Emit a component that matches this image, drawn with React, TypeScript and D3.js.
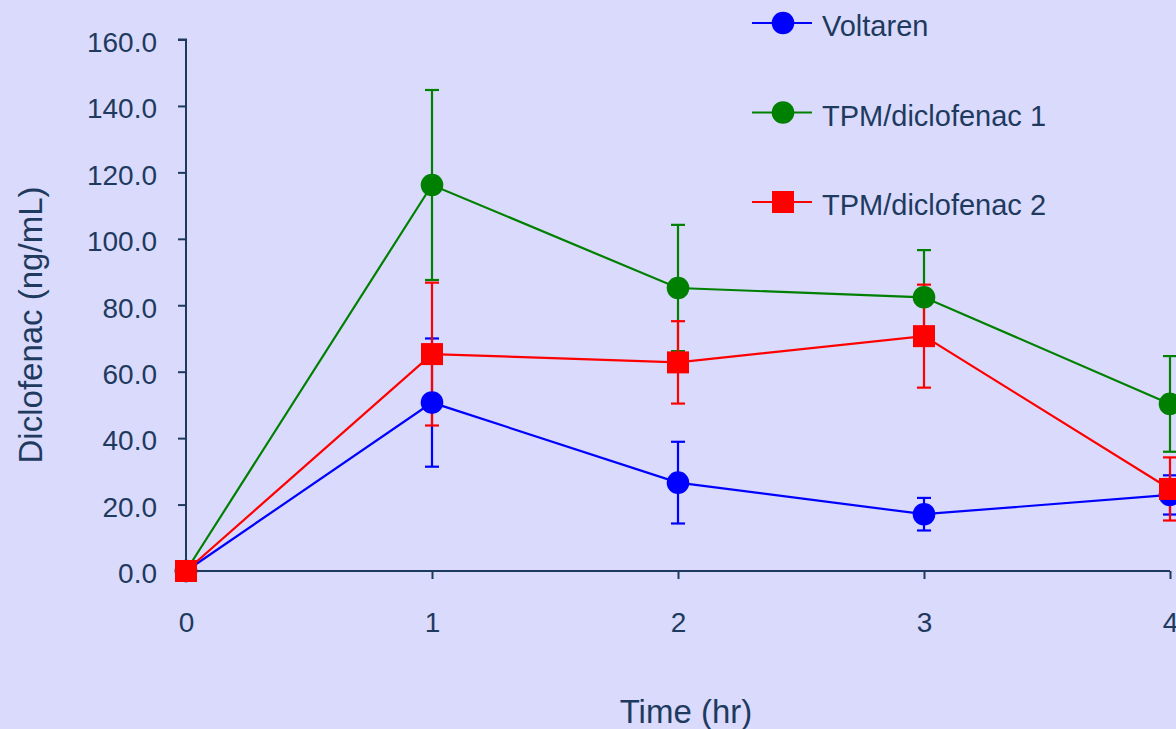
import { useEffect, useRef } from "react";
import * as d3 from "d3";

const times = [0, 1, 2, 3, 4];
const yTicks = [0, 20, 40, 60, 80, 100, 120, 140, 160];

const voltaren = [0, 50.7, 26.6, 17.1, 22.9];
const voltarenErr = [0, 19.3, 12.3, 4.9, 5.9];
const tpm1 = [0, 116.2, 85.2, 82.4, 50.3];
const tpm1Err = [0, 28.6, 19.0, 14.2, 14.4];
const tpm2 = [0, 65.3, 62.8, 70.7, 24.7];
const tpm2Err = [0, 21.5, 12.4, 15.5, 9.5];

const seriesNames = ["Voltaren", "TPM/diclofenac 1", "TPM/diclofenac 2"];

const W = 1176;
const H = 729;
const textColor = "#1f3a5f";
const font = "'Liberation Sans', Arial, sans-serif";

const App = () => {
  const svgRef = useRef<SVGSVGElement>(null);

  useEffect(() => {
    const svg = d3.select(svgRef.current);
    svg.selectAll("*").remove();

    const x = d3.scaleLinear().domain([0, 4]).range([186, 1170]);
    const y = d3.scaleLinear().domain([0, 160]).range([571, 39.5]);

    const series = [
      { name: seriesNames[0], values: voltaren, err: voltarenErr, color: "#0000ff", shape: "circle" },
      { name: seriesNames[1], values: tpm1, err: tpm1Err, color: "#008000", shape: "circle" },
      { name: seriesNames[2], values: tpm2, err: tpm2Err, color: "#ff0000", shape: "square" },
    ];

    svg.append("rect").attr("width", W).attr("height", H).attr("fill", "#dadafc");

    // axes
    const yAxis = d3
      .axisLeft(y)
      .tickValues(yTicks)
      .tickSize(8)
      .tickPadding(21)
      .tickFormat((d) => d3.format(".1f")(d as number));
    const yg = svg.append("g").attr("transform", `translate(${x(0)},0)`).call(yAxis);

    const xAxis = d3.axisBottom(x).tickValues(times).tickSize(8).tickPadding(33).tickFormat(d3.format("d"));
    const xg = svg.append("g").attr("transform", `translate(0,${y(0)})`).call(xAxis);

    [yg, xg].forEach((g) => {
      g.select(".domain").attr("stroke", textColor).attr("stroke-width", 2);
      g.selectAll(".tick line").attr("stroke", textColor).attr("stroke-width", 2);
      g.selectAll(".tick text")
        .attr("fill", textColor)
        .attr("font-family", font)
        .attr("font-size", 28);
    });
    yg.selectAll(".tick text").attr("dy", "0.42em");
    // hide outer tick caps on domain path
    yg.select(".domain").attr("d", `M-8,${y(160)}H0V${y(0)}`);
    xg.select(".domain").attr("d", `M${x(0)},0H${x(4)}`);

    // axis titles
    svg
      .append("text")
      .attr("x", 686)
      .attr("y", 723)
      .attr("text-anchor", "middle")
      .attr("fill", textColor)
      .attr("font-family", font)
      .attr("font-size", 33)
      .text("Time (hr)");

    svg
      .append("text")
      .attr("transform", "translate(42,325) rotate(-90)")
      .attr("text-anchor", "middle")
      .attr("fill", textColor)
      .attr("font-family", font)
      .attr("font-size", 33)
      .text("Diclofenac (ng/mL)");

    const line = d3
      .line<number>()
      .x((d, i) => x(times[i]))
      .y((d) => y(d));

    // lines and error bars
    series.forEach((s) => {
      const g = svg.append("g");
      g.append("path")
        .datum(s.values)
        .attr("d", line)
        .attr("fill", "none")
        .attr("stroke", s.color)
        .attr("stroke-width", 2.2);

      s.values.forEach((v, i) => {
        if (!s.err[i]) return;
        const cx = x(times[i]);
        const top = y(v + s.err[i]);
        const bot = y(v - s.err[i]);
        g.append("line").attr("x1", cx).attr("x2", cx).attr("y1", top).attr("y2", bot)
          .attr("stroke", s.color).attr("stroke-width", 2.2);
        [top, bot].forEach((yy) => {
          g.append("line").attr("x1", cx - 7).attr("x2", cx + 7).attr("y1", yy).attr("y2", yy)
            .attr("stroke", s.color).attr("stroke-width", 2.2);
        });
      });
    });

    const drawMarker = (g: any, shape: string, cx: number, cy: number, color: string) => {
      if (shape === "circle") {
        g.append("circle").attr("cx", cx).attr("cy", cy).attr("r", 11.3).attr("fill", color);
      } else {
        g.append("rect").attr("x", cx - 11).attr("y", cy - 11).attr("width", 22).attr("height", 22).attr("fill", color);
      }
    };

    // markers
    series.forEach((s) => {
      const g = svg.append("g");
      s.values.forEach((v, i) => drawMarker(g, s.shape, x(times[i]), y(v), s.color));
    });

    // legend
    const legend = svg.append("g");
    series.forEach((s, i) => {
      const ly = 23 + i * 89.5;
      legend.append("line").attr("x1", 752).attr("x2", 812).attr("y1", ly).attr("y2", ly)
        .attr("stroke", s.color).attr("stroke-width", 2.2);
      drawMarker(legend, s.shape, 783, ly, s.color);
      legend
        .append("text")
        .attr("x", 822)
        .attr("y", ly + 13)
        .attr("fill", textColor)
        .attr("font-family", font)
        .attr("font-size", 29)
        .text(s.name);
    });
  }, []);

  return (
    <svg
      ref={svgRef}
      width={W}
      height={H}
      style={{ position: "absolute", left: 0, top: 0, display: "block" }}
    ></svg>
  );
};

export default App;
